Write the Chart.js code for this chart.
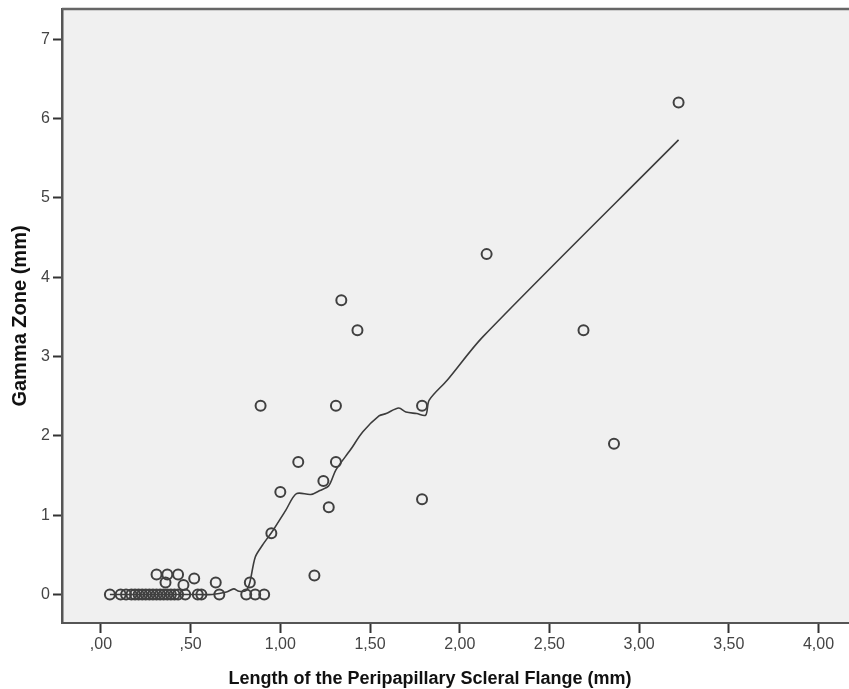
<!DOCTYPE html>
<html>
<head>
<meta charset="utf-8">
<script src="https://cdn.jsdelivr.net/npm/chart.js@4.4.0/dist/chart.umd.min.js"></script>
<style>
  html, body { margin: 0; padding: 0; background: #fff; }
  #wrap { width: 849px; height: 689px; }
</style>
</head>
<body>
<div id="wrap"><canvas id="myChart" width="849" height="689"></canvas></div>
<script>
const flangeLength = [
  0.05, 0.11, 0.14, 0.17, 0.19, 0.21, 0.23, 0.25, 0.27, 0.29, 0.31, 0.33,
  0.35, 0.37, 0.39, 0.41, 0.43, 0.47, 0.54, 0.56, 0.66, 0.81, 0.86, 0.91,
  0.31, 0.37, 0.43, 0.36, 0.46, 0.52, 0.64, 0.83,
  0.95, 1.00, 1.10, 1.24, 1.27, 1.19, 1.31, 0.89, 1.31, 1.34, 1.43,
  1.79, 1.79, 2.15, 2.69, 2.86, 3.22
];
const gammaZone = [
  0, 0, 0, 0, 0, 0, 0, 0, 0, 0, 0, 0,
  0, 0, 0, 0, 0, 0, 0, 0, 0, 0, 0, 0,
  0.25, 0.25, 0.25, 0.15, 0.12, 0.20, 0.15, 0.15,
  0.77, 1.29, 1.67, 1.43, 1.10, 0.24, 1.67, 2.38, 2.38, 3.71, 3.33,
  2.38, 1.20, 4.29, 3.33, 1.90, 6.20
];

// loess fit line
const fitX = [0.05, 0.30, 0.50, 0.62, 0.70, 0.74, 0.77, 0.81, 0.83, 0.86, 0.90, 0.96,
  1.03, 1.09, 1.17, 1.22, 1.27, 1.31, 1.39, 1.46, 1.55, 1.59, 1.66, 1.70, 1.76,
  1.81, 1.83, 1.93, 2.13, 3.22];
const fitY = [0.00, 0.00, 0.00, 0.00, 0.03, 0.07, 0.04, 0.05, 0.15, 0.47, 0.62, 0.81,
  1.06, 1.27, 1.26, 1.31, 1.37, 1.57, 1.82, 2.05, 2.25, 2.28, 2.35, 2.30, 2.28,
  2.26, 2.45, 2.70, 3.25, 5.73];

const xTicks = [0, 0.5, 1, 1.5, 2, 2.5, 3, 3.5, 4];
const yTicks = [0, 1, 2, 3, 4, 5, 6, 7];
const xTitle = "Length of the Peripapillary Scleral Flange (mm)";
const yTitle = "Gamma Zone (mm)";

const points = flangeLength.map((x, i) => ({ x: x, y: gammaZone[i] }));
const fit = fitX.map((x, i) => ({ x: x, y: fitY[i] }));

const ink = "#444";
const tickFont = { family: "'Liberation Sans Narrow', 'Liberation Sans', Arial, sans-serif", size: 16 };

// grey plot area, top frame line and the x title
const plotBg = {
  id: "plotBg",
  beforeDraw(chart) {
    const { ctx, chartArea: a } = chart;
    ctx.save();
    ctx.fillStyle = "#fff";
    ctx.fillRect(0, 0, chart.width, chart.height);
    ctx.fillStyle = "#f0f0f0";
    ctx.fillRect(a.left, a.top, a.right - a.left, a.bottom - a.top);
    ctx.restore();
  },
  afterDraw(chart) {
    const { ctx, chartArea: a } = chart;
    ctx.save();
    ctx.strokeStyle = "#666";
    ctx.lineWidth = 2.5;
    ctx.beginPath();
    ctx.moveTo(a.left, a.top);
    ctx.lineTo(a.right, a.top);
    ctx.stroke();
    // SPSS centres this title a bit left of the plot centre
    ctx.fillStyle = "#111";
    ctx.font = "bold 18px 'Liberation Sans', Arial, sans-serif";
    ctx.textAlign = "center";
    ctx.textBaseline = "alphabetic";
    ctx.fillText(xTitle, 430, 684);
    ctx.restore();
  }
};

const fmt = v => v.toFixed(2).replace(".", ",").replace(/^0/, "");

new Chart(document.getElementById("myChart"), {
  type: "scatter",
  data: {
    datasets: [
      {
        label: "Fit",
        data: fit,
        showLine: true,
        borderColor: "#3c3c3c",
        borderWidth: 1.6,
        pointRadius: 0,
        tension: 0.3,
        order: 2
      },
      {
        label: "Cases",
        data: points,
        pointRadius: 5,
        pointBorderWidth: 2,
        borderColor: "#404040",
        backgroundColor: "rgba(0,0,0,0)",
        order: 1
      }
    ]
  },
  options: {
    responsive: false,
    animation: false,
    layout: { padding: { top: 9, right: 0, left: 0, bottom: 0 }, autoPadding: false },
    plugins: { legend: { display: false }, tooltip: { enabled: false } },
    scales: {
      x: {
        type: "linear",
        min: -0.217,
        max: 4.17,
        afterBuildTicks: s => { s.ticks = xTicks.map(v => ({ value: v })); },
        afterFit: s => { s.height = 66; s.paddingLeft = 0; s.paddingRight = 0; },
        ticks: { callback: v => fmt(v), color: ink, font: tickFont, padding: 2, maxRotation: 0 },
        grid: { drawOnChartArea: false, drawTicks: true, tickLength: 10, tickColor: "#333", tickWidth: 2 },
        border: { display: true, color: "#555", width: 2 },
        title: { display: false }
      },
      y: {
        type: "linear",
        min: -0.36,
        max: 7.38,
        afterBuildTicks: s => { s.ticks = yTicks.map(v => ({ value: v })); },
        afterFit: s => { s.width = 62; s.paddingTop = 0; s.paddingBottom = 0; },
        ticks: { callback: v => String(v), color: ink, font: tickFont, padding: 3 },
        grid: { drawOnChartArea: false, drawTicks: true, tickLength: 9, tickColor: "#333", tickWidth: 2 },
        border: { display: true, color: "#555", width: 2.5 },
        title: {
          display: true, text: yTitle, color: "#111",
          font: { family: "'Liberation Sans', Arial, sans-serif", size: 20, weight: "bold" },
          padding: { top: 8, bottom: 0 }
        }
      }
    }
  },
  plugins: [plotBg]
});
</script>
</body>
</html>
